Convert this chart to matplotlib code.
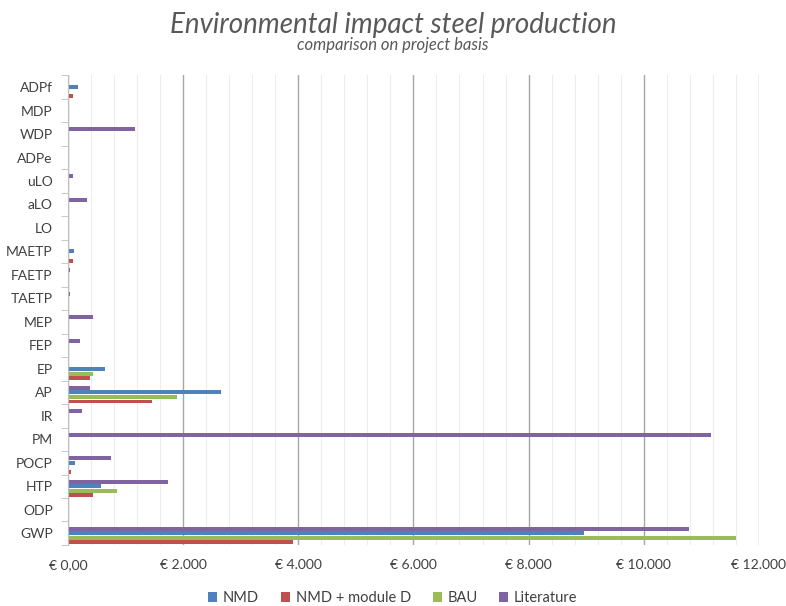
import matplotlib
matplotlib.use("Agg")
import matplotlib.pyplot as plt
from matplotlib.ticker import FuncFormatter, MultipleLocator, FixedLocator
import numpy as np

plt.rcParams['font.family'] = ['Lato', 'DejaVu Sans']

categories = ["GWP", "ODP", "HTP", "POCP", "PM", "IR", "AP", "EP", "FEP", "MEP",
              "TAETP", "FAETP", "MAETP", "LO", "aLO", "uLO", "ADPe", "WDP", "MDP", "ADPf"]

nmd = [8970, 2, 580, 130, 0, 0, 2660, 650, 0, 0, 5, 5, 110, 0, 0, 0, -15, 0, 0, 170]
nmd_module_d = [3900, 1, 430, 45, 0, 0, 1460, 375, 0, 0, 20, 15, 80, 0, 0, 0, -15, 0, 0, 80]
bau = [11600, 1, 850, 5, 0, 0, 1900, 430, 0, 0, 5, 5, 10, 0, 0, 0, 8, 0, 0, 10]
literature = [10790, 0, 1740, 740, 11170, 240, 375, 0, 200, 440, 40, 40, 0, 0, 330, 80, 0, 1160, 0, 0]

series = [
    ("NMD", nmd, "#4F81BD", 0.0),
    ("NMD + module D", nmd_module_d, "#C0504D", -0.39),
    ("BAU", bau, "#9BBB59", -0.2),
    ("Literature", literature, "#8064A2", 0.2),
]

fig = plt.figure(figsize=(7.86, 6.06), dpi=100)
ax = fig.add_axes([0.0865, 0.1007, 0.879, 0.775])

y = np.arange(len(categories))
for name, vals, col, off in series:
    ax.barh(y + off, vals, height=0.17, color=col, label=name, zorder=3)

ax.set_xlim(0, 12000)
ax.set_ylim(-0.5, len(categories) - 0.5)

ax.xaxis.set_major_locator(MultipleLocator(2000))
ax.xaxis.set_minor_locator(MultipleLocator(400))
ax.grid(which='major', axis='x', color='#A6A6A6', linewidth=1.0, zorder=0)
ax.grid(which='minor', axis='x', color='#EDEDED', linewidth=0.8, zorder=0)

def euro(v, pos):
    if v == 0:
        return "€ 0,00"
    return "€ " + f"{int(v):,}".replace(",", ".")

ax.xaxis.set_major_formatter(FuncFormatter(euro))
ax.tick_params(axis='x', which='both', length=0, labelsize=10, labelcolor='#404040', pad=10)

ax.set_yticks(y)
ax.set_yticklabels(categories)
ax.yaxis.set_minor_locator(FixedLocator(np.arange(-0.5, len(categories), 1)))
ax.tick_params(axis='y', which='major', length=0, labelsize=10, labelcolor='#404040', pad=11)
ax.tick_params(axis='y', which='minor', length=5, color='#BFBFBF')

for s in ['top', 'right', 'bottom']:
    ax.spines[s].set_visible(False)
ax.spines['left'].set_color('#BFBFBF')
ax.spines['left'].set_zorder(4)

fig.text(0.5, 0.958, "Environmental impact steel production", ha='center', va='center',
         fontsize=20, style='italic', color='#595959')
fig.text(0.5, 0.925, "comparison on project basis", ha='center', va='center',
         fontsize=12, style='italic', color='#595959')

fig.legend(loc='center', bbox_to_anchor=(0.5, 0.013), ncol=4, frameon=False,
           fontsize=10.5, handlelength=0.6, handleheight=0.6, handletextpad=0.4,
           columnspacing=1.5, labelcolor='#404040')

fig.savefig("out.png", dpi=100)
